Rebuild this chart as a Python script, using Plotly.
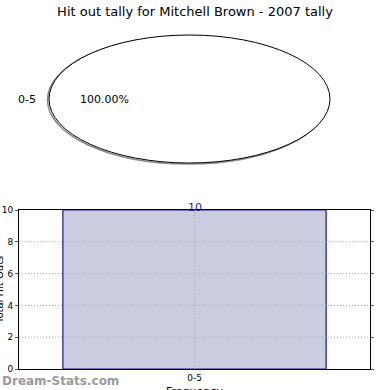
import plotly.graph_objects as go

categories = ["0-5"]
values = [10]
title_text = "Hit out tally for Mitchell Brown - 2007 tally"
y_ticks = [0, 2, 4, 6, 8, 10]

total = sum(values)
pcts = [v / total * 100 for v in values]

W, H = 351, 369  # plot-area pixel size
GRID = dict(color="#a8a8a8", width=1, dash="1px,2px")

fig = go.Figure()
fig.add_trace(go.Bar(
    x=categories, y=values,
    marker=dict(color="#cccce0", line=dict(color="#1a1a8c", width=1.2)),
    width=0.75, showlegend=False, hoverinfo="x+y",
))

# gridlines drawn above the bar, as in the reference
for t in y_ticks[1:-1]:
    fig.add_shape(type="line", xref="x domain", yref="y", x0=0, x1=1, y0=t, y1=t,
                  line=GRID, layer="above")
for cat in categories:
    fig.add_shape(type="line", xref="x", yref="y domain", x0=cat, x1=cat, y0=0, y1=1,
                  line=GRID, layer="above")

# Pie (drawn as stretched ellipse like the reference)
ex0, ex1, ey0, ey1 = 30 / W, 311 / W, (369 - 163) / H, (369 - 35) / H
dx, dy = 1.5 / W, 1.0 / H
fig.add_shape(type="circle", xref="paper", yref="paper",
              x0=ex0 - dx, x1=ex1 - dx, y0=ey0 - dy, y1=ey1 - dy,
              line=dict(color="#8a8a8a", width=1.6), fillcolor="rgba(0,0,0,0)", layer="above")
fig.add_shape(type="circle", xref="paper", yref="paper",
              x0=ex0, x1=ex1, y0=ey0, y1=ey1,
              line=dict(color="black", width=1), fillcolor="white", layer="above")

cy = (ey0 + ey1) / 2
for cat, p in zip(categories, pcts):
    fig.add_annotation(xref="paper", yref="paper", x=(27 - 19) / W, y=cy,
                       text=cat, showarrow=False, font=dict(size=11, color="black"),
                       xanchor="center", yanchor="middle")
    fig.add_annotation(xref="paper", yref="paper", x=(104 - 19) / W, y=cy,
                       text=f"{p:.2f}%", showarrow=False, font=dict(size=11, color="black"),
                       xanchor="center", yanchor="middle")

for cat, v in zip(categories, values):
    fig.add_annotation(x=cat, y=v, text=str(v), showarrow=False, yanchor="bottom",
                       yshift=-6, font=dict(size=11, color="#1a1a8c"))

# watermark
fig.add_annotation(xref="paper", yref="paper", x=-19 / W, y=(369 - 381) / H,
                   text="<b>Dream-Stats.com</b>", showarrow=False, xanchor="left",
                   yanchor="middle", font=dict(size=12, color="#9a9a9a", family="DejaVu Sans"))
# axis titles (partly cut by the page edges, as in the reference)
fig.add_annotation(xref="paper", yref="paper", x=0.5, y=(369 - 383) / H,
                   text="Frequency", showarrow=False, xanchor="center", yanchor="top",
                   font=dict(size=11, color="black"))
fig.add_annotation(xref="paper", yref="paper", x=-20 / W, y=(369 - 290) / H,
                   text="Total Hit Outs", showarrow=False, xanchor="center", yanchor="middle",
                   textangle=-90, font=dict(size=10, color="black"))

fig.update_layout(
    width=390, height=390,
    margin=dict(l=19, r=20, t=0, b=21),
    paper_bgcolor="white", plot_bgcolor="white",
    font=dict(family="DejaVu Sans", color="black"),
    title=dict(text=title_text, x=0.5, xanchor="center", y=1 - 11 / 390, yanchor="middle",
               yref="container", font=dict(size=13, color="black")),
    bargap=0.25,
)
fig.update_xaxes(
    range=[-0.5, 0.5], showgrid=False,
    showline=True, linecolor="black", mirror=True, ticks="", tickfont=dict(size=9),
    automargin=False, fixedrange=True, layer="above traces",
)
fig.update_yaxes(
    domain=[0, 159 / H], range=[0, 10], tickvals=y_ticks, showgrid=False,
    showline=True, linecolor="black",
    mirror="ticks", ticks="outside", ticklen=3, tickcolor="#555555", tickfont=dict(size=9),
    automargin=False, zeroline=False, layer="above traces",
)

fig.write_html("out.html")
